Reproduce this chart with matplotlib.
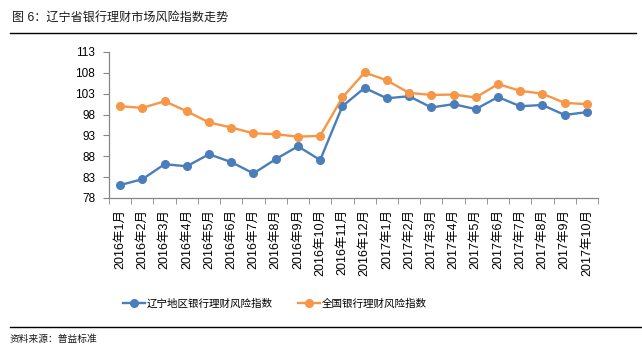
import numpy as np
import matplotlib.pyplot as plt
from matplotlib.lines import Line2D

plt.rcParams['font.family'] = ['Liberation Sans', 'Noto Sans CJK SC']

# month labels on the x axis
months = ['2016年1月', '2016年2月', '2016年3月', '2016年4月', '2016年5月', '2016年6月',
          '2016年7月', '2016年8月', '2016年9月', '2016年10月', '2016年11月', '2016年12月',
          '2017年1月', '2017年2月', '2017年3月', '2017年4月', '2017年5月', '2017年6月',
          '2017年7月', '2017年8月', '2017年9月', '2017年10月']

# risk index, Liaoning and whole country
liaoning = [81.1, 82.5, 86.1, 85.6, 88.5, 86.6, 83.9, 87.3, 90.4, 87.1, 100.0,
            104.4, 101.9, 102.4, 99.7, 100.5, 99.3, 102.2, 100.0, 100.3, 97.9, 98.6]
national = [100.0, 99.6, 101.2, 98.8, 96.1, 94.9, 93.5, 93.3, 92.7, 92.9, 102.1,
            108.1, 106.2, 103.2, 102.7, 102.8, 102.1, 105.3, 103.7, 103.0, 100.8, 100.5]

yticks = [78, 83, 88, 93, 98, 103, 108, 113]

blue = '#4a7ebb'
orange = '#f79646'
grey = '#868686'

fig = plt.figure(figsize=(6.42, 3.56), dpi=100)
ax = fig.add_axes([109 / 642, 1 - 198 / 356, 489 / 642, 146 / 356])

x = np.arange(len(months))
ax.plot(x, liaoning, color=blue, lw=1.7, marker='o', ms=5.5, label='辽宁地区银行理财风险指数')
ax.plot(x, national, color=orange, lw=1.7, marker='o', ms=5.5, label='全国银行理财风险指数')

ax.set_xlim(-0.5, len(months) - 0.5)
ax.set_ylim(78, 113)
ax.set_yticks(yticks)
ax.set_yticklabels([str(v) for v in yticks], fontsize=8.5)

ax.set_xticks(x)
ax.set_xticklabels(months, rotation=90, fontsize=9)
ax.set_xticks(np.arange(len(months) + 1) - 0.5, minor=True)
ax.tick_params(axis='x', which='major', length=0, pad=8)
ax.tick_params(axis='x', which='minor', length=4, color=grey, direction='out')
ax.tick_params(axis='y', length=4, color=grey, direction='out', pad=6)

for s in ['top', 'right']:
    ax.spines[s].set_visible(False)
for s in ['left', 'bottom']:
    ax.spines[s].set_color(grey)
    ax.spines[s].set_linewidth(0.9)

fig.legend(loc='center', bbox_to_anchor=(275 / 642, 1 - 304 / 356), ncol=2, frameon=False,
           fontsize=7.6, handlelength=2.1, handletextpad=0.15, columnspacing=2.4)

# title and source with rules
fig.text(12 / 642, 1 - 18 / 356, '图 6：辽宁省银行理财市场风险指数走势', fontsize=8.7,
         va='center', ha='left', color='#1a1a1a')
fig.add_artist(Line2D([10 / 642, 636 / 642], [1 - 33 / 356, 1 - 33 / 356], color='black', lw=1))
fig.add_artist(Line2D([10 / 642, 1.0], [1 - 327 / 356, 1 - 327 / 356], color='black', lw=1))
fig.text(10 / 642, 1 - 339 / 356, '资料来源：普益标准', fontsize=7, va='center', ha='left',
         color='#1a1a1a')

fig.savefig('out.png', dpi=100)
